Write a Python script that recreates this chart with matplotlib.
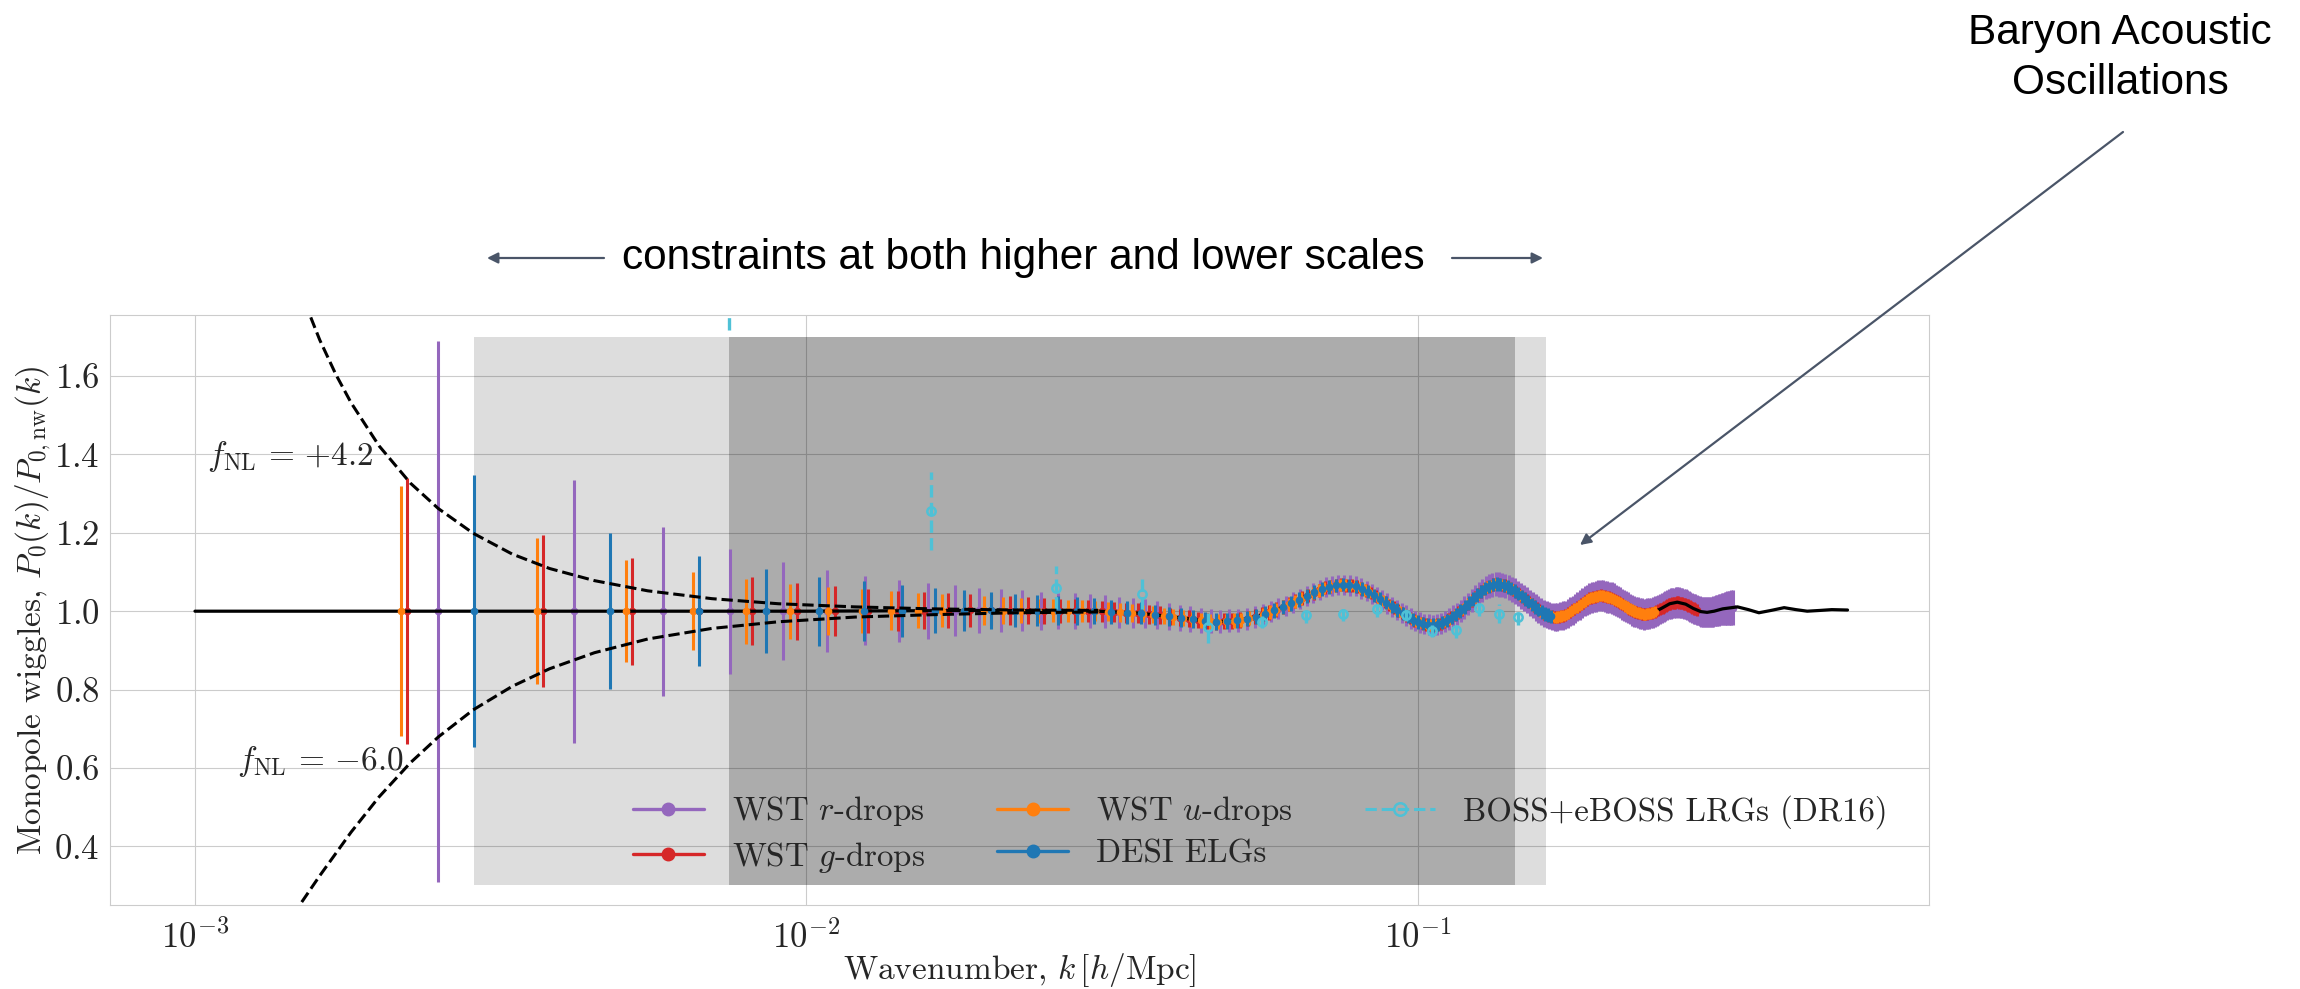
import numpy as np
import matplotlib
matplotlib.use("Agg")
import matplotlib.pyplot as plt
from matplotlib.lines import Line2D
from matplotlib.ticker import NullLocator
import seaborn as sns

# ---------------- values ----------------
# BAO wiggle model P0/P0,nw (black line; forecast points sit on it)
wiggle_k = [1e-3, 0.01, 0.02, 0.03, 0.035, 0.040, 0.045, 0.047, 0.051, 0.055,
            0.060, 0.063, 0.067, 0.071, 0.075, 0.079, 0.083, 0.087, 0.091, 0.095,
            0.099, 0.1025, 0.1055, 0.109, 0.113, 0.117, 0.121, 0.125, 0.129, 0.1335,
            0.138, 0.143, 0.150, 0.155, 0.160, 0.167, 0.174, 0.181, 0.190, 0.199,
            0.208, 0.217, 0.226, 0.234, 0.242, 0.250, 0.258, 0.2655, 0.274, 0.282,
            0.290, 0.297, 0.305, 0.315, 0.333, 0.347, 0.361, 0.378, 0.397, 0.415,
            0.433, 0.455, 0.475, 0.504]
wiggle_y = [1.0, 1.0, 1.002, 1.0, 0.995, 0.985, 0.975, 0.973, 0.977, 0.988,
            1.010, 1.025, 1.045, 1.062, 1.068, 1.064, 1.050, 1.030, 1.010, 0.992,
            0.975, 0.967, 0.964, 0.968, 0.982, 0.999, 1.020, 1.042, 1.060, 1.070,
            1.067, 1.055, 1.030, 1.012, 0.995, 0.984, 0.990, 1.008, 1.032, 1.041,
            1.033, 1.015, 0.999, 0.992, 0.996, 1.007, 1.019, 1.023, 1.018, 1.007,
            0.999, 0.997, 1.000, 1.006, 1.011, 1.004, 0.996, 1.002, 1.009, 1.004,
            1.000, 1.002, 1.004, 1.003]

# scale-dependent bias curves
fnl_up_k = [1.45e-3, 1.5e-3, 1.6e-3, 1.7e-3, 1.8e-3, 2.0e-3, 2.25e-3, 2.5e-3, 2.85e-3,
            3.3e-3, 3.8e-3, 4.5e-3, 5.5e-3, 7e-3, 9e-3, 1.2e-2, 1.6e-2, 2.2e-2, 3e-2]
fnl_up_y = [1.866, 1.802, 1.692, 1.604, 1.532, 1.422, 1.327, 1.262, 1.199,
            1.146, 1.109, 1.078, 1.052, 1.032, 1.019, 1.011, 1.006, 1.003, 1.002]
fnl_dn_k = [1.3e-3, 1.4e-3, 1.5e-3, 1.6e-3, 1.8e-3, 2.0e-3, 2.25e-3, 2.5e-3, 2.85e-3,
            3.3e-3, 3.8e-3, 4.5e-3, 5.5e-3, 7e-3, 9e-3, 1.2e-2, 1.6e-2, 2.2e-2, 3e-2]
fnl_dn_y = [0.122, 0.193, 0.261, 0.325, 0.436, 0.526, 0.613, 0.679, 0.748,
            0.808, 0.853, 0.894, 0.929, 0.956, 0.973, 0.985, 0.991, 0.996, 0.998]

# surveys: linear k bins (width, last centre) and errors read at a few k
labels = ["WST $r$-drops", "WST $g$-drops", "WST $u$-drops", "DESI ELGs"]
colors = ["#9467bd", "#d62728", "#ff7f0e", "#1f77b4"]
bin_width = [1.665e-3, 1.483e-3, 1.448e-3, 1.907e-3]
k_last = [0.328, 0.286, 0.244, 0.165]

err_r_k = [2.4975e-3, 4.16e-3, 5.83e-3, 7.49e-3, 9.16e-3, 1.08e-2, 1.25e-2, 1.415e-2,
           1.59e-2, 1.75e-2, 1.92e-2, 3e-2, 4.3e-2, 6e-2, 0.1, 0.15, 0.2, 0.3, 0.33]
err_r = [0.69, 0.336, 0.216, 0.16, 0.125, 0.104, 0.088, 0.079,
         0.071, 0.064, 0.058, 0.042, 0.032, 0.026, 0.026, 0.033, 0.040, 0.038, 0.045]
err_g_k = [2.22e-3, 3.70e-3, 5.18e-3, 6.67e-3, 8.16e-3, 9.64e-3, 1.11e-2, 1.4e-2,
           1.7e-2, 2.5e-2, 4e-2, 8e-2, 0.25, 0.29]
err_g = [0.34, 0.195, 0.137, 0.105, 0.087, 0.073, 0.063, 0.052,
         0.044, 0.032, 0.022, 0.016, 0.015, 0.016]
err_u_k = [2.17e-3, 3.62e-3, 5.07e-3, 6.52e-3, 7.96e-3, 9.41e-3, 1.09e-2, 1.37e-2,
           1.65e-2, 2.5e-2, 4e-2, 8e-2, 0.25]
err_u = [0.32, 0.186, 0.13, 0.10, 0.083, 0.07, 0.062, 0.05,
         0.042, 0.03, 0.02, 0.015, 0.014]
err_d_k = [2.861e-3, 4.77e-3, 6.67e-3, 8.58e-3, 1.049e-2, 1.24e-2, 1.43e-2, 1.62e-2,
           1.81e-2, 2.0e-2, 2.5e-2, 3.5e-2, 5e-2, 8e-2, 0.165]
err_d = [0.347, 0.199, 0.14, 0.107, 0.088, 0.076, 0.066, 0.057,
         0.052, 0.047, 0.038, 0.028, 0.02, 0.017, 0.017]
err_nodes = [(err_r_k, err_r), (err_g_k, err_g), (err_u_k, err_u), (err_d_k, err_d)]

# BOSS+eBOSS LRGs (DR16)
boss_k = [0.00747, 0.0160, 0.0256, 0.0354, 0.0454, 0.0555, 0.0655, 0.0755,
          0.0856, 0.0955, 0.1055, 0.1156, 0.1259, 0.1358, 0.146]
boss_y = [2.0, 1.256, 1.06, 1.045, 0.96, 0.972, 0.99, 0.994,
          1.005, 0.990, 0.949, 0.952, 1.007, 0.994, 0.985]
boss_err = [0.283, 0.10, 0.055, 0.04, 0.04, 0.015, 0.02, 0.02,
            0.02, 0.015, 0.015, 0.02, 0.02, 0.025, 0.02]
boss_color = "#4fc1d6"

# shaded k ranges (light: DESI range, dark: BOSS range), y extent
light_span = [2.86e-3, 0.162]
dark_span = [7.47e-3, 0.144]
span_y = [0.3, 1.7]

# ---------------- figure ----------------
sns.set_style("whitegrid")
plt.rcParams["font.family"] = "serif"
plt.rcParams["font.serif"] = ["cmr10", "DejaVu Serif"]
plt.rcParams["mathtext.fontset"] = "cm"
plt.rcParams["axes.unicode_minus"] = False
plt.rcParams["axes.formatter.use_mathtext"] = True

fig = plt.figure(figsize=(23, 9.89), dpi=100)
ax = fig.add_axes([0.0478, 0.0849, 0.7909, 0.5962])

ax.fill_between(light_span, span_y[0], span_y[1], color="k", alpha=0.135, lw=0, zorder=1)
ax.fill_between(dark_span, span_y[0], span_y[1], color="k", alpha=0.22, lw=0, zorder=1.1)

def survey(i, z):
    dk = bin_width[i]
    n = int(round(k_last[i] / dk - 1.5)) + 1
    k = dk * (np.arange(n) + 1.5)
    y = np.interp(np.log(k), np.log(wiggle_k), wiggle_y)
    ek, ev = err_nodes[i]
    e = np.exp(np.interp(np.log(k), np.log(ek), np.log(ev)))
    ax.errorbar(k, y, yerr=e, fmt="o", color=colors[i], ms=4.5, elinewidth=2.2,
                capsize=0, zorder=z)

survey(0, 3.0)
survey(1, 3.1)
ax.plot(wiggle_k, wiggle_y, color="k", lw=2.3, zorder=3.2)
survey(2, 3.3)
survey(3, 3.4)

eb = ax.errorbar(boss_k, boss_y, yerr=boss_err, fmt="o", color=boss_color, mfc="none",
                 ms=6, mew=1.8, elinewidth=2.4, capsize=0, zorder=3.5)
eb[-1][0].set_linestyle("--")

ax.plot(fnl_up_k, fnl_up_y, color="k", ls="--", lw=2.2, zorder=4)
ax.plot(fnl_dn_k, fnl_dn_y, color="k", ls="--", lw=2.2, zorder=4)

ax.text(1.045e-3, 1.395, r"$f_{\rm NL}\,=\,{+}4.2$", fontsize=24, color=".15",
        ha="left", va="center", zorder=5)
ax.text(1.17e-3, 0.617, r"$f_{\rm NL}\,=\,{-}6.0$", fontsize=24, color=".15",
        ha="left", va="center", zorder=5)

ax.set_xscale("log")
ax.set_xlim(7.26e-4, 0.685)
ax.set_ylim(0.25, 1.755)
ax.set_yticks([0.4, 0.6, 0.8, 1.0, 1.2, 1.4, 1.6])
ax.xaxis.set_minor_locator(NullLocator())
ax.tick_params(labelsize=25, colors=".15")
ax.tick_params(axis="y", pad=4)
ax.tick_params(axis="x", pad=7)
for s in ax.spines.values():
    s.set_color(".8")
ax.set_xlabel(r"Wavenumber, $k\,[h/{\rm Mpc}]$", fontsize=24, color=".15", labelpad=-3)
ax.set_ylabel(r"Monopole wiggles, $P_0(k)/P_{0,{\rm nw}}(k)$", fontsize=24,
              color=".15", labelpad=1)

handles = [Line2D([0], [0], color=c, marker="o", ms=9, lw=2.4) for c in colors]
handles.append(Line2D([0], [0], color=boss_color, marker="o", mfc="none", ms=9,
                      mew=1.8, lw=2.2, ls="--"))
names = labels + ["BOSS+eBOSS LRGs (DR16)"]
leg = ax.legend(handles, names, ncol=3, loc="upper left", bbox_to_anchor=(0.2875, 0.188),
                frameon=False, fontsize=23.7, borderpad=0, borderaxespad=0,
                handlelength=2.15, handletextpad=0.85, columnspacing=2.2, labelspacing=0.35)
for t in leg.get_texts():
    t.set_color(".15")

# ---------------- slide annotations ----------------
ann_font = dict(family=["Liberation Sans", "DejaVu Sans"], size=30.5, color="black")
arrow = dict(arrowstyle="-|>", color="#4a5568", lw=1.6, mutation_scale=16,
             shrinkA=0, shrinkB=0)
fig.text(1023 / 2300, 1 - 258 / 989, "constraints at both higher and lower scales",
         ha="center", va="center", **ann_font)
ax.annotate("", xy=(487, 989 - 258), xytext=(604, 989 - 258), xycoords="figure pixels",
            textcoords="figure pixels", arrowprops=arrow, annotation_clip=False)
ax.annotate("", xy=(1543, 989 - 258), xytext=(1452, 989 - 258), xycoords="figure pixels",
            textcoords="figure pixels", arrowprops=arrow, annotation_clip=False)
fig.text(2120 / 2300, 1 - 58 / 989, "Baryon Acoustic\nOscillations", ha="center",
         va="center", linespacing=1.3, **ann_font)
ax.annotate("", xy=(1580, 989 - 545), xytext=(2123, 989 - 132), xycoords="figure pixels",
            textcoords="figure pixels", arrowprops=arrow, annotation_clip=False)

fig.savefig("out.png", dpi=100)
